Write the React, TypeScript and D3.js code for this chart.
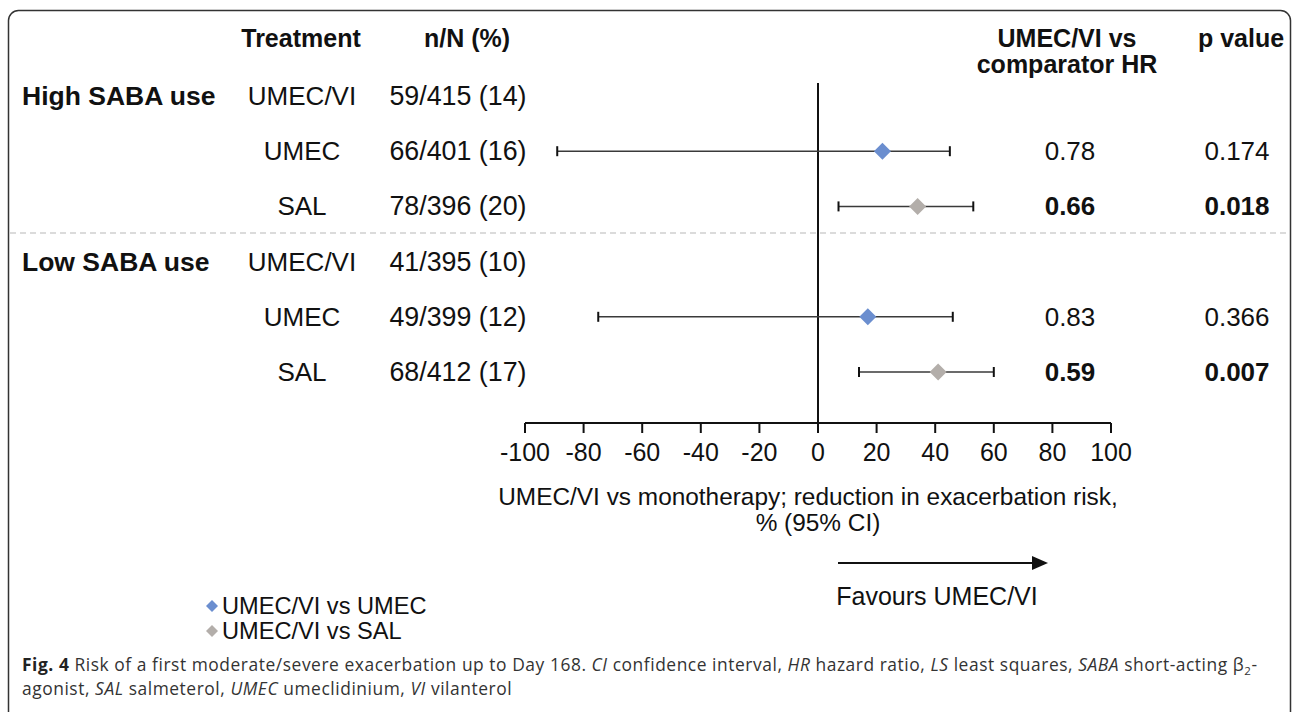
import React from "react";
import * as d3 from "d3";

const groups = ["High SABA use", "Low SABA use"];
const groupRows = [0, 3];
const treatments = ["UMEC/VI", "UMEC", "SAL", "UMEC/VI", "UMEC", "SAL"];
const nN = ["59/415 (14)", "66/401 (16)", "78/396 (20)", "41/395 (10)", "49/399 (12)", "68/412 (17)"];
const estimate: (number | null)[] = [null, 22, 34, null, 17, 41];
const lower: (number | null)[] = [null, -89, 7, null, -75, 14];
const upper: (number | null)[] = [null, 45, 53, null, 46, 60];
const comparator = ["", "UMEC", "SAL", "", "UMEC", "SAL"];
const hr = ["", "0.78", "0.66", "", "0.83", "0.59"];
const pval = ["", "0.174", "0.018", "", "0.366", "0.007"];
const significant = [false, false, true, false, false, true];
const xTicks = [-100, -80, -60, -40, -20, 0, 20, 40, 60, 80, 100];
const legendLabels = ["UMEC/VI vs UMEC", "UMEC/VI vs SAL"];
const legendKeys = ["UMEC", "SAL"];

const colors: Record<string, string> = { UMEC: "#6b8ecf", SAL: "#b3aeaa" };
const FONT = "Liberation Sans, Arial, sans-serif";
const CAP = "Open Sans, Noto Sans, sans-serif";

const diamondPath = (r: number) => {
  const p = d3.path();
  p.moveTo(0, -r);
  p.lineTo(r, 0);
  p.lineTo(0, r);
  p.lineTo(-r, 0);
  p.closePath();
  return p.toString();
};

export default function App() {
  const x = d3.scaleLinear().domain([-100, 100]).range([525, 1111]);
  const y = d3.scalePoint<number>().domain(d3.range(6)).range([96, 372]);
  const axisY = 423;
  const fs = 25;
  const fsRow = 26;

  return (
    <svg width={1292} height={712} style={{ position: "absolute", left: 0, top: 0, background: "#fff" }}>
      <rect x={8.5} y={10.5} width={1282} height={760} rx={10} fill="none" stroke="#333" strokeWidth={1.5} />
      {/* headers */}
      <g fontFamily={FONT} fontSize={fs} fontWeight="bold" fill="#111" textAnchor="middle">
        <text x={301} y={47}>Treatment</text>
        <text x={467} y={47}>n/N (%)</text>
        <text x={1067} y={47}>UMEC/VI vs</text>
        <text x={1067} y={73}>comparator HR</text>
        <text x={1241} y={47}>p value</text>
      </g>
      {/* group labels */}
      {groups.map((g, i) => (
        <text key={g} x={22} y={(y(groupRows[i]) as number) + 9} fontFamily={FONT} fontSize={26.5} fontWeight="bold" fill="#111">
          {g}
        </text>
      ))}
      {/* rows */}
      {treatments.map((t, i) => {
        const yy = y(i) as number;
        return (
          <g key={i} fontFamily={FONT} fontSize={fsRow} fill="#111">
            <text x={302} y={yy + 9} textAnchor="middle">{t}</text>
            <text x={458} y={yy + 9} textAnchor="middle" fontSize={26.8}>{nN[i]}</text>
            <text x={1070} y={yy + 9} textAnchor="middle" fontWeight={significant[i] ? "bold" : "normal"}>{hr[i]}</text>
            <text x={1237} y={yy + 9} textAnchor="middle" fontWeight={significant[i] ? "bold" : "normal"}>{pval[i]}</text>
          </g>
        );
      })}
      {/* dashed separator */}
      <line x1={10} x2={1290} y1={233} y2={233} stroke="#cfcfcf" strokeWidth={1.5} strokeDasharray="6,4" />
      {/* zero line */}
      <line x1={x(0)} x2={x(0)} y1={83} y2={axisY} stroke="#111" strokeWidth={2} />
      {/* error bars */}
      {estimate.map((e, i) => {
        if (e === null) return null;
        const yy = y(i) as number;
        const lo = x(lower[i] as number);
        const hi = x(upper[i] as number);
        return (
          <g key={"eb" + i}>
            <line x1={lo} x2={hi} y1={yy} y2={yy} stroke="#3a3a3a" strokeWidth={1.5} />
            <line x1={lo} x2={lo} y1={yy - 5} y2={yy + 5} stroke="#111" strokeWidth={2} />
            <line x1={hi} x2={hi} y1={yy - 5} y2={yy + 5} stroke="#111" strokeWidth={2} />
            <path d={diamondPath(8.5)} transform={`translate(${x(e)},${yy})`} fill={colors[comparator[i]]} />
          </g>
        );
      })}
      {/* x axis */}
      <line x1={x(-100)} x2={x(100)} y1={axisY} y2={axisY} stroke="#111" strokeWidth={2} />
      {xTicks.map((t) => (
        <g key={t}>
          <line x1={x(t)} x2={x(t)} y1={axisY} y2={axisY + 10} stroke="#111" strokeWidth={2} />
          <text x={x(t)} y={axisY + 38} textAnchor="middle" fontFamily={FONT} fontSize={fs} fill="#111">{t}</text>
        </g>
      ))}
      <g fontFamily={FONT} fontSize={24.4} fill="#111" textAnchor="middle">
        <text x={x(0) - 10} y={505}>UMEC/VI vs monotherapy; reduction in exacerbation risk,</text>
        <text x={x(0)} y={531}>% (95% CI)</text>
        <text x={937} y={605} fontSize={fs}>Favours UMEC/VI</text>
      </g>
      {/* favours arrow */}
      <line x1={838} x2={1034} y1={563} y2={563} stroke="#111" strokeWidth={2} />
      <path d="M1032,556 L1048,563 L1032,570 Z" fill="#111" />
      {/* legend */}
      {legendLabels.map((l, i) => (
        <g key={l}>
          <path d={diamondPath(6)} transform={`translate(212,${606 + i * 25})`} fill={colors[legendKeys[i]]} />
          <text x={222} y={614 + i * 25} fontFamily={FONT} fontSize={23.6} fill="#111">{l}</text>
        </g>
      ))}
      {/* caption */}
      <g fontFamily={CAP} fontSize={17.4} fill="#333" letterSpacing={0.55}>
        <text x={22} y={671}>
          <tspan fontWeight="bold" fill="#222">Fig. 4</tspan>
          <tspan> Risk of a first moderate/severe exacerbation up to Day 168. </tspan>
          <tspan fontStyle="italic">CI</tspan>
          <tspan> confidence interval, </tspan>
          <tspan fontStyle="italic">HR</tspan>
          <tspan> hazard ratio, </tspan>
          <tspan fontStyle="italic">LS</tspan>
          <tspan> least squares, </tspan>
          <tspan fontStyle="italic">SABA</tspan>
          <tspan> short-acting β</tspan>
          <tspan fontSize={11.5} dy={4}>2</tspan>
          <tspan dy={-4}>-</tspan>
        </text>
        <text x={22} y={694.5}>
          <tspan>agonist, </tspan>
          <tspan fontStyle="italic">SAL</tspan>
          <tspan> salmeterol, </tspan>
          <tspan fontStyle="italic">UMEC</tspan>
          <tspan> umeclidinium, </tspan>
          <tspan fontStyle="italic">VI</tspan>
          <tspan> vilanterol</tspan>
        </text>
      </g>
    </svg>
  );
}
